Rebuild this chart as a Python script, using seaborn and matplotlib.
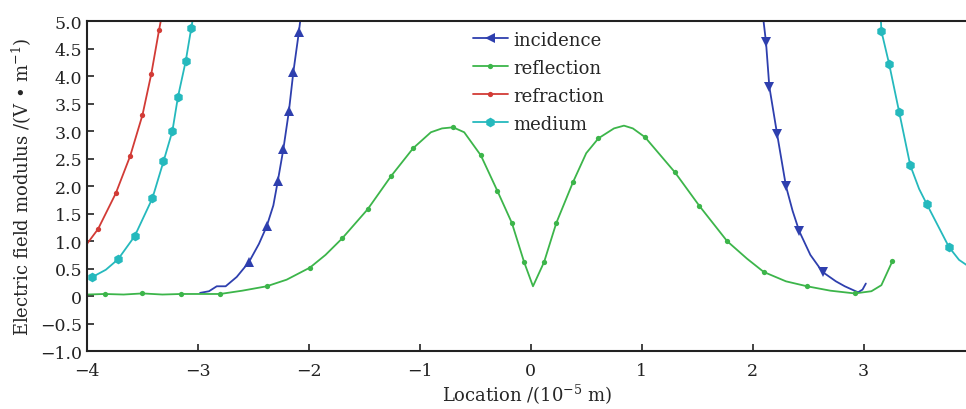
"""Electric field modulus vs location for incidence, reflection, refraction and medium."""
import matplotlib
matplotlib.use("Agg")
import matplotlib.pyplot as plt
from matplotlib.ticker import FuncFormatter, MultipleLocator
import seaborn as sns

# incidence (two branches)
inc_left_x = [-2.98, -2.90, -2.83, -2.75, -2.65, -2.54, -2.45, -2.38, -2.32, -2.28, -2.23, -2.18, -2.14, -2.09, -2.075]
inc_left_y = [0.06, 0.09, 0.18, 0.18, 0.35, 0.62, 0.95, 1.27, 1.65, 2.09, 2.67, 3.36, 4.07, 4.80, 5.05]
inc_left_marks = [5, 7, 9, 10, 11, 12, 13]
inc_right_x = [2.095, 2.12, 2.15, 2.22, 2.30, 2.36, 2.42, 2.52, 2.63, 2.75, 2.83, 2.95, 2.99, 3.02]
inc_right_y = [5.05, 4.62, 3.81, 2.95, 2.00, 1.55, 1.18, 0.75, 0.44, 0.27, 0.18, 0.07, 0.12, 0.23]
inc_right_marks = [1, 2, 3, 4, 6, 8]

# reflection
refl_x = [-4.0, -3.84, -3.67, -3.50, -3.32, -3.15, -2.98, -2.80, -2.60, -2.38, -2.20, -1.99,
          -1.85, -1.70, -1.47, -1.26, -1.06, -0.90, -0.80, -0.70, -0.60, -0.45, -0.30, -0.17,
          -0.06, 0.02, 0.12, 0.23, 0.38, 0.50, 0.61, 0.75, 0.84, 0.92, 1.03, 1.30, 1.52, 1.77,
          1.95, 2.10, 2.30, 2.49, 2.70, 2.92, 3.07, 3.16, 3.26]
refl_y = [0.03, 0.04, 0.03, 0.05, 0.03, 0.04, 0.04, 0.04, 0.10, 0.18, 0.30, 0.52,
          0.75, 1.05, 1.58, 2.18, 2.69, 2.98, 3.05, 3.07, 2.98, 2.56, 1.91, 1.33,
          0.62, 0.18, 0.62, 1.33, 2.07, 2.60, 2.87, 3.05, 3.10, 3.05, 2.89, 2.25, 1.64, 1.00,
          0.68, 0.44, 0.27, 0.18, 0.10, 0.05, 0.09, 0.20, 0.64]
refl_marks = [1, 3, 5, 7, 9, 11, 13, 14, 15, 16, 19, 21, 22, 23, 24, 26, 27, 28, 30, 34,
              35, 36, 37, 39, 41, 43, 46]

# refraction
refr_x = [-4.0, -3.90, -3.74, -3.61, -3.50, -3.42, -3.35, -3.33]
refr_y = [0.95, 1.22, 1.87, 2.55, 3.29, 4.04, 4.84, 5.05]
refr_marks = [1, 2, 3, 4, 5, 6]

# medium (two branches)
med_left_x = [-3.95, -3.83, -3.72, -3.57, -3.41, -3.31, -3.23, -3.18, -3.11, -3.06, -3.045]
med_left_y = [0.35, 0.48, 0.67, 1.09, 1.78, 2.45, 3.00, 3.62, 4.27, 4.87, 5.05]
med_left_marks = [0, 2, 3, 4, 5, 6, 7, 8, 9]
med_right_x = [3.155, 3.16, 3.23, 3.32, 3.42, 3.50, 3.57, 3.77, 3.86, 3.94]
med_right_y = [5.05, 4.82, 4.22, 3.35, 2.38, 1.95, 1.67, 0.89, 0.66, 0.55]
med_right_marks = [1, 2, 3, 4, 6, 7]

labels = ["incidence", "reflection", "refraction", "medium"]
colors = ["#2e3fae", "#3cb54a", "#d23b36", "#25b9bd"]

sns.set_style("ticks")
plt.rcParams["font.family"] = ["DejaVu Serif"]
plt.rcParams["mathtext.fontset"] = "dejavuserif"

fig = plt.figure(figsize=(9.66, 4.10), dpi=100)
ax = fig.add_axes([0.090, 0.141, 0.912, 0.805])

sns.lineplot(x=inc_left_x, y=inc_left_y, ax=ax, color=colors[0], lw=1.3, sort=False,
             marker="^", markersize=7, markevery=inc_left_marks, mew=0, label=labels[0])
sns.lineplot(x=inc_right_x, y=inc_right_y, ax=ax, color=colors[0], lw=1.3, sort=False,
             marker="v", markersize=7, markevery=inc_right_marks, mew=0)
sns.lineplot(x=refl_x, y=refl_y, ax=ax, color=colors[1], lw=1.3, sort=False,
             marker="o", markersize=3.8, markevery=refl_marks, mew=0, label=labels[1])
sns.lineplot(x=refr_x, y=refr_y, ax=ax, color=colors[2], lw=1.3, sort=False,
             marker="o", markersize=3.8, markevery=refr_marks, mew=0, label=labels[2])
sns.lineplot(x=med_left_x, y=med_left_y, ax=ax, color=colors[3], lw=1.3, sort=False,
             marker="h", markersize=7, markevery=med_left_marks, mew=0, label=labels[3])
sns.lineplot(x=med_right_x, y=med_right_y, ax=ax, color=colors[3], lw=1.3, sort=False,
             marker="h", markersize=7, markevery=med_right_marks, mew=0)

ax.set_xlim(-4, 3.94)
ax.set_ylim(-1.0, 5.0)
ax.xaxis.set_major_locator(MultipleLocator(1))
ax.yaxis.set_major_locator(MultipleLocator(0.5))


def fmt_y(v, pos):
    if abs(v) < 1e-9:
        return "0"
    return f"{v:.1f}".replace("-", "\u2212")


def fmt_x(v, pos):
    return f"{v:.0f}".replace("-", "\u2212")


ax.yaxis.set_major_formatter(FuncFormatter(fmt_y))
ax.xaxis.set_major_formatter(FuncFormatter(fmt_x))
ax.tick_params(direction="in", length=5, width=1.2, labelsize=12.5, colors="#222222")
ax.tick_params(axis="x", pad=8)
ax.spines["right"].set_visible(False)
for s in ["left", "top", "bottom"]:
    ax.spines[s].set_linewidth(1.5)
    ax.spines[s].set_color("#222222")

ax.set_xlabel(r"Location /(10$^{-5}$ m)", fontsize=13, labelpad=2)
ax.set_ylabel("Electric field modulus /(V \u2022 m$^{-1}$)", fontsize=13, labelpad=4)

handles, lbls = ax.get_legend_handles_labels()
leg = ax.legend(handles, lbls, loc="upper left", bbox_to_anchor=(0.42, 1.02), frameon=False,
                fontsize=13, handlelength=1.9, handletextpad=0.3, labelspacing=0.55)
leg.legend_handles[0].set_marker("<")

fig.savefig("out.png", dpi=100)
